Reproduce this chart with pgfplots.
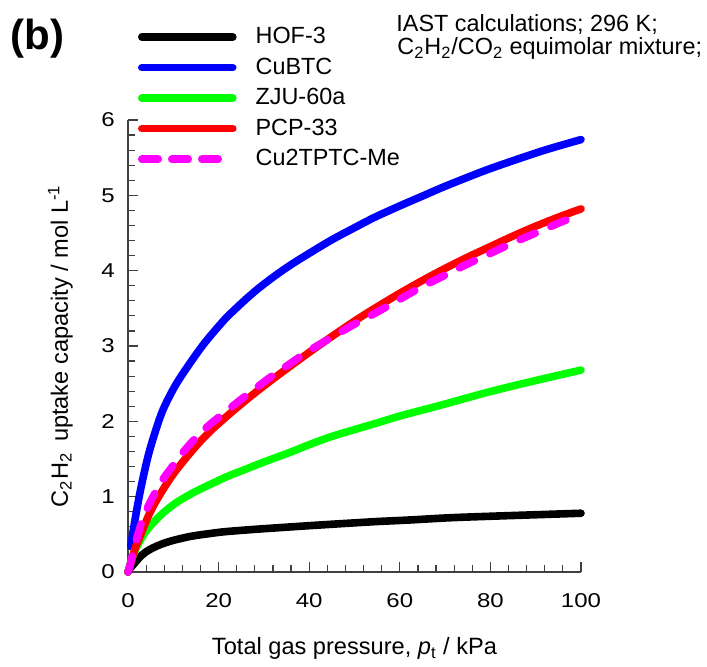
\documentclass[border=0pt]{standalone}
\usepackage{fontspec}
\setmainfont{Liberation Sans}
\newfontfamily\tickfont{Liberation Sans}[FakeStretch=1.2]
\usepackage{pgfplots}
\pgfplotsset{compat=1.18}
\definecolor{cblack}{rgb}{0,0,0}
\definecolor{cblue}{rgb}{0,0,1}
\definecolor{cgreen}{rgb}{0,1,0}
\definecolor{cred}{rgb}{1,0,0}
\definecolor{cmag}{rgb}{1,0,1}
\begin{document}
\begin{tikzpicture}
\begin{axis}[
  at={(0pt,0pt)}, anchor=south west,
  scale only axis, width=226.5pt, height=226pt,
  xmin=0, xmax=100, ymin=0, ymax=6,
  axis x line*=bottom, axis y line*=left,
  axis line style={black!75, line width=0.6pt},
  xtick={0,20,...,100}, ytick={0,1,...,6},
  minor x tick num=4, minor y tick num=4,
  tick align=inside,
  major tick length=5pt, minor tick length=3.5pt,
  every tick/.append style={black!75, line width=0.6pt},
  /pgf/number format/assume math mode=true,
  tick label style={font=\tickfont\fontsize{10}{12}\selectfont},
  xticklabel style={inner sep=0pt, yshift=-10.5pt},
  yticklabel style={inner sep=0pt, xshift=-6.5pt},
  xlabel={Total gas pressure, \textit{p}\textsubscript{t} / kPa},
  ylabel={C\textsubscript{2}H\textsubscript{2}\hspace{0.45em}uptake capacity / mol L\textsuperscript{-1}},
  label style={font=\fontsize{11.8}{14}\selectfont},
  xlabel style={at={(axis description cs:0.5,-0.1836)}, anchor=base},
  ylabel style={at={(axis description cs:-0.1325,0.5)}, anchor=base},
  clip=false,
  legend cell align=left,
  legend style={draw=none, fill=none, inner sep=0pt, outer sep=0pt,
    at={(axis description cs:0.0221,1.2049)}, anchor=north west,
    font=\fontsize{11.7}{14}\selectfont,
    nodes={inner sep=0pt}, row sep=5.6pt,
    /tikz/every odd column/.append style={column sep=9.5pt}},
  legend image code/.code={\draw[#1] (0pt,0pt) -- (45.5pt,0pt);},
  every axis plot/.append style={line width=3.8pt, line cap=round, line join=round, smooth},
]
\addplot[cblack] table {
x y
0 0
0.5 0.05
1.5 0.12
2.5 0.19
3.8 0.26
5.5 0.32
7.4 0.37
10 0.42
14 0.475
18 0.51
21.4 0.535
27.7 0.565
35 0.595
40 0.615
48 0.645
55 0.67
62 0.69
71 0.72
80 0.74
90 0.76
100 0.78
};
\addlegendentry{HOF-3}
\addplot[cblue] table {
x y
0.6 0.34
1.8 0.78
2.9 1.13
4.4 1.53
5.9 1.84
7.7 2.15
10.3 2.46
13.2 2.73
16.9 3.04
21.3 3.35
23.5 3.48
26 3.62
28.7 3.76
32.4 3.93
36 4.08
40 4.23
45 4.41
50 4.57
54.5 4.71
60 4.86
65 4.99
70 5.12
78.4 5.32
85 5.46
92 5.60
100 5.74
};
\addlegendentry{CuBTC}
\addplot[cgreen] table {
x y
0 0
0.5 0.11
1 0.20
2 0.34
3.5 0.50
5.2 0.63
7.5 0.77
10.4 0.91
14 1.04
17.7 1.15
22 1.27
25.8 1.36
30 1.46
35.4 1.58
40 1.69
45 1.80
50 1.89
54.5 1.97
60 2.07
65 2.15
70 2.23
78.4 2.37
85 2.47
92 2.57
100 2.68
};
\addlegendentry{ZJU-60a}
\addplot[cred] table {
x y
0 0
0.4 0.07
1.5 0.30
2.5 0.45
4.4 0.73
6 0.92
8.1 1.13
10 1.30
11.8 1.44
14 1.60
16.2 1.75
18.7 1.90
21.3 2.04
25 2.23
28.5 2.40
32.4 2.58
36 2.74
40 2.915
44 3.085
48 3.25
51 3.37
55 3.52
60 3.70
65 3.87
70 4.03
75 4.18
80 4.32
85 4.46
90 4.59
95 4.71
100 4.82
};
\addlegendentry{PCP-33}
\addplot[cmag, dash pattern=on 8.2pt off 8.5pt,
  legend image post style={dash pattern=on 8.2pt off 6.8pt, shorten >=5.5pt}] table {
x y
0 0
0.5 0.10
1.2 0.28
2.4 0.54
3.6 0.76
5.7 1.02
7.7 1.23
9.9 1.41
12.7 1.63
15.6 1.82
18.3 1.97
21 2.10
24.5 2.27
28 2.43
31.5 2.59
35.4 2.75
39 2.90
42.8 3.04
46 3.15
49.4 3.27
55 3.45
60 3.62
65 3.79
70 3.94
75 4.09
80 4.23
85 4.37
90 4.50
95 4.63
100 4.75
};
\addlegendentry{Cu2TPTC-Me}
\end{axis}
\node[anchor=base west, inner sep=0pt, font=\bfseries\fontsize{21}{24}\selectfont] at (-59pt,261.25pt) {(b)};
\node[anchor=base west, inner sep=0pt, font=\fontsize{11.7}{14}\selectfont] at (134pt,270.15pt) {IAST calculations; 296 K;};
\node[anchor=base west, inner sep=0pt, font=\fontsize{11.7}{14}\selectfont] at (134.5pt,258.5pt) {C\textsubscript{2}H\textsubscript{2}/CO\textsubscript{2} equimolar mixture;};
\path[use as bounding box] (-64pt,-46.5pt) rectangle (289.5pt,286pt);
\end{tikzpicture}
\end{document}
